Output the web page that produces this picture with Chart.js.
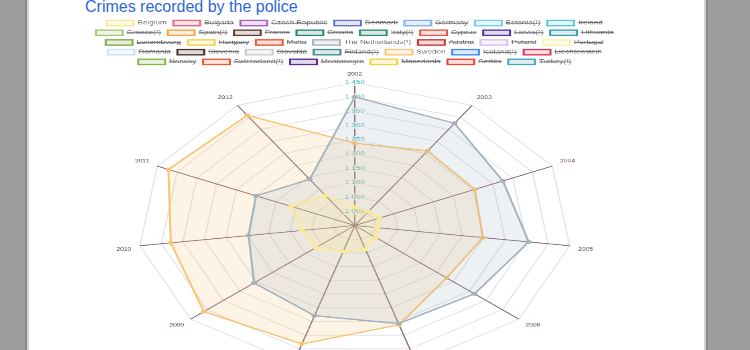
<!DOCTYPE html>
<html>
<head>
<meta charset="utf-8">
<script src="https://cdn.jsdelivr.net/npm/chart.js@4.4.1/dist/chart.umd.min.js"></script>
<style>
  html, body { margin: 0; height: 100%; overflow: hidden; background: #9c9c9c; }
  #page {
    position: absolute; left: 27px; top: 0; width: 675px; height: 350px;
    background: #fff; border-left: 2px solid #d2d2d2; border-right: 2px solid #d2d2d2;
    box-shadow: -2px 0 0 #888, 2px 0 0 #888; overflow: hidden;
  }
  h1 {
    position: absolute; left: 56px; top: -2px; margin: 0;
    font: 16px "Liberation Sans", Arial, sans-serif; color: #2d66d8;
  }
  #chartBox {
    position: absolute; left: 41px; top: 16px; width: 850px; height: 818px;
    transform: scale(0.670, 0.441); transform-origin: 0 0;
  }
</style>
</head>
<body>
<div id="page">
  <h1>Crimes recorded by the police</h1>
  <div id="chartBox"><canvas id="radarChart"></canvas></div>
</div>
<script>
const years = ["2002", "2003", "2004", "2005", "2006", "2007", "2008", "2009", "2010", "2011", "2012"];

const countries = [
  "Belgium", "Bulgaria", "Czech Republic", "Denmark", "Germany", "Estonia(¹)", "Ireland",
  "Greece(¹)", "Spain(¹)", "France", "Croatia", "Italy(¹)", "Cyprus", "Latvia(¹)", "Lithuania",
  "Luxembourg", "Hungary", "Malta", "The Netherlands(¹)", "Austria", "Poland", "Portugal",
  "Romania", "Slovenia", "Slovakia", "Finland(¹)", "Sweden", "Iceland(¹)", "Liechtenstein",
  "Norway", "Switzerland(¹)", "Montenegro", "Macedonia", "Serbia", "Turkey(¹)",
];

const countryColors = [
  "#fce98c", "#e8637e", "#a95cc8", "#6272c4", "#7fb2f0", "#72d0e6", "#5ec6d6",
  "#a2c872", "#fb9f45", "#5c3d30", "#2e8272", "#2f8c74", "#e85640", "#5532a2", "#3d9caa",
  "#82aa44", "#f7cf45", "#e8552e", "#a3b2bb", "#c83434", "#dbbdf0", "#fff0a8",
  "#c9e0fc", "#4d2d24", "#cacaca", "#3b8b92", "#f9c373", "#3c8cf0", "#d93452",
  "#82b844", "#e85c34", "#5c2c92", "#f8d034", "#e84434", "#42a2c2",
];

// series shown on the chart, all others start hidden
const belgium = [1014, 1008, 1012, 1002, 1014, 1037, 1045, 1068, 1073, 1111, 1075];
const netherlands = [1400, 1375, 1325, 1355, 1315, 1308, 1279, 1257, 1197, 1200, 1142];
const sweden = [1238, 1260, 1254, 1248, 1230, 1312, 1382, 1410, 1378, 1422, 1408];

const shown = { "Belgium": belgium, "The Netherlands(¹)": netherlands, "Sweden": sweden };

const tickMin = 950;
const tickMax = 1450;
const tickStep = 50;

function fade(hex, a) {
  const n = parseInt(hex.slice(1), 16);
  return `rgba(${(n >> 16) & 255}, ${(n >> 8) & 255}, ${n & 255}, ${a})`;
}

function spaced(value) {
  return String(value).replace(/\B(?=(\d{3})+(?!\d))/g, " ");
}

Chart.defaults.font.family = "'Liberation Sans', Arial, sans-serif";

function initRadar() {
  const ctx = document.getElementById("radarChart");
  if (!ctx) return;

  new Chart(ctx, {
    type: "radar",
    data: {
      labels: years,
      datasets: countries.map((name, i) => ({
        label: name,
        data: shown[name] || [],
        hidden: !shown[name],
        borderColor: countryColors[i],
        backgroundColor: fade(countryColors[i], 0.18),
        pointBackgroundColor: countryColors[i],
        pointBorderColor: countryColors[i],
        borderWidth: 3,
        pointRadius: 3,
      })),
    },
    options: {
      responsive: true,
      maintainAspectRatio: false,
      animation: false,
      plugins: {
        legend: {
          position: "top",
          labels: { color: "#6a6a6a", font: { size: 12 } },
        },
      },
      scales: {
        r: {
          min: tickMin,
          max: tickMax,
          ticks: {
            stepSize: tickStep,
            color: "#3fb1b1",
            font: { size: 12 },
            callback: (value) => spaced(value),
          },
          grid: { color: "#e4e4e4", lineWidth: 2 },
          angleLines: { color: "#8a6878", lineWidth: 2 },
          pointLabels: { color: "#5a3a4a", font: { size: 10 } },
        },
      },
    },
  });
}

document.addEventListener("DOMContentLoaded", initRadar);
</script>
</body>
</html>
